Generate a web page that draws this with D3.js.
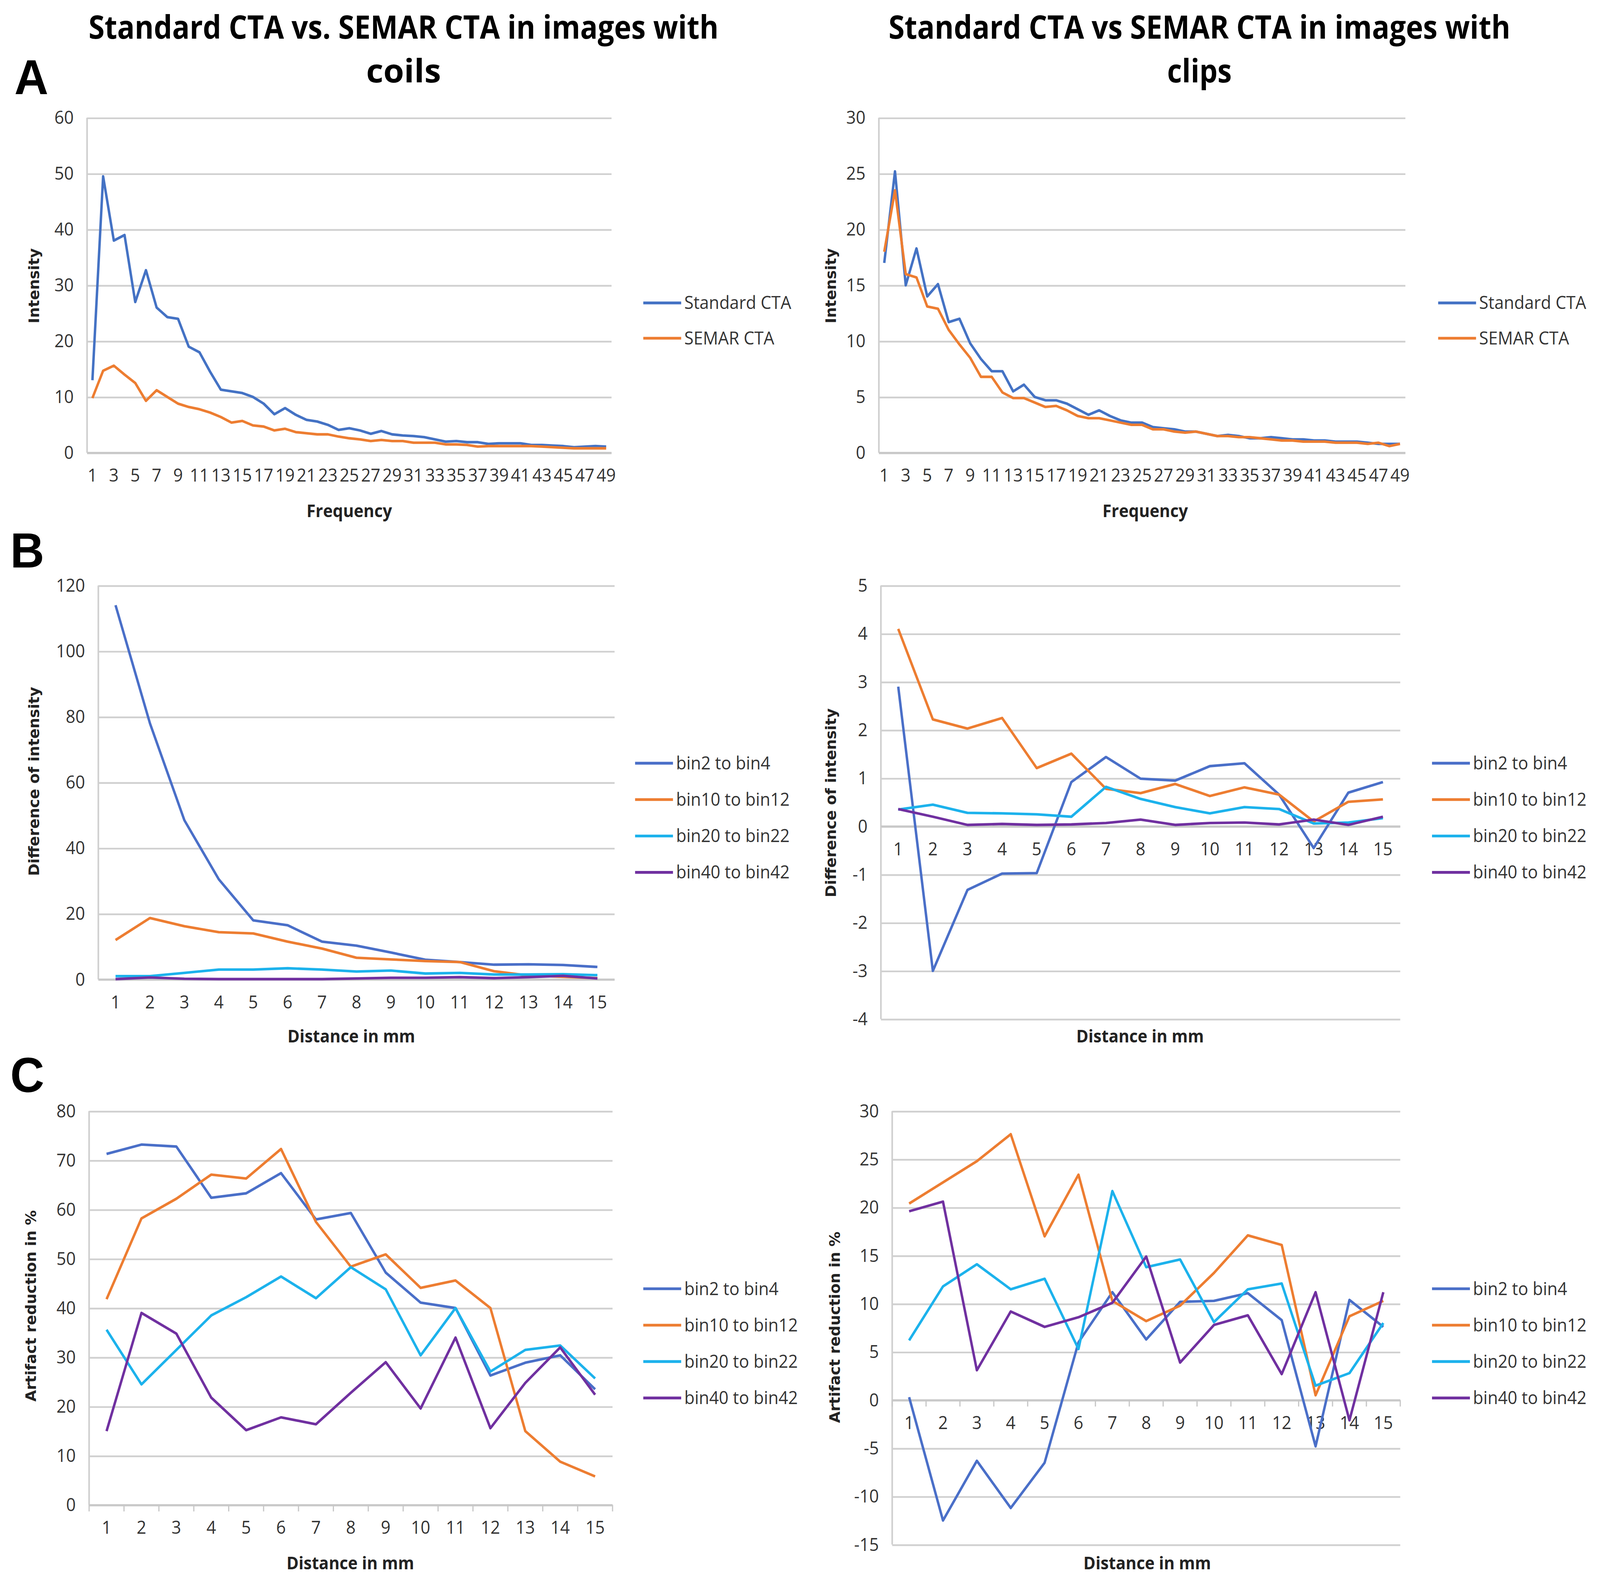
<!DOCTYPE html>
<html>
<head>
<meta charset="utf-8">
<script src="https://cdn.jsdelivr.net/npm/d3@7"></script>
<style>
  html, body { margin: 0; padding: 0; background: #fff; overflow: hidden; }
  #chart svg { display: block; width: 100vw; height: 100vh; }
  svg text { fill: #262626; }
  .title { font-family: "Open Sans", sans-serif; font-weight: bold; font-size: 30px; fill: #000; }
  .letter { font-family: "Liberation Sans", Arial, sans-serif; font-weight: bold; font-size: 46px; fill: #000; }
  .tick-label { font-family: "Open Sans", sans-serif; font-size: 16.5px; fill: #333; }
  .y-title { font-family: "DejaVu Sans", Verdana, sans-serif; font-weight: bold; font-size: 14px; fill: #222; }
  .x-title { font-family: "Open Sans", sans-serif; font-weight: bold; font-size: 16px; fill: #222; }
  .legend-label { font-family: "Open Sans", sans-serif; font-size: 16.5px; fill: #333; }
</style>
</head>
<body>
<div id="chart"></div>
<script>
// categories
const freqBins = [1,2,3,4,5,6,7,8,9,10,11,12,13,14,15,16,17,18,19,20,21,22,23,24,25,
  26,27,28,29,30,31,32,33,34,35,36,37,38,39,40,41,42,43,44,45,46,47,48,49];
const distances = [1,2,3,4,5,6,7,8,9,10,11,12,13,14,15];

// A: spectra, coils
const coilsStandard = [13,49.5,38,39,27,32.7,26,24.3,24,19,18,14.5,11.3,11,10.7,10,8.8,6.9,8,6.8,
  5.9,5.6,5,4.1,4.4,4,3.4,3.9,3.3,3.1,3,2.8,2.4,2,2.1,1.9,1.9,1.6,1.7,1.7,1.7,1.4,1.4,1.3,1.2,1.0,1.1,1.2,1.1];
const coilsSemar = [9.8,14.7,15.6,14,12.5,9.3,11.2,10,8.8,8.2,7.8,7.2,6.4,5.4,5.7,4.9,4.7,4,4.3,3.7,
  3.5,3.3,3.3,2.9,2.6,2.4,2.1,2.3,2.1,2.1,1.8,1.8,1.8,1.5,1.5,1.4,1.1,1.2,1.2,1.2,1.2,1.2,1.1,1.0,0.9,0.8,0.8,0.8,0.8];
// A: spectra, clips
const clipsStandard = [17,25.2,15,18.3,14,15.1,11.7,12,9.8,8.4,7.3,7.3,5.5,6.1,5,4.7,4.7,4.4,3.9,3.4,
  3.8,3.3,2.9,2.7,2.7,2.3,2.2,2.1,1.9,1.9,1.7,1.5,1.6,1.5,1.3,1.3,1.4,1.3,1.2,1.2,1.1,1.1,1.0,1.0,1.0,0.9,0.8,0.8,0.8];
const clipsSemar = [18,23.5,16,15.7,13.1,12.9,11,9.7,8.5,6.8,6.8,5.4,4.9,4.9,4.5,4.1,4.2,3.8,3.3,3.1,
  3.1,2.9,2.7,2.5,2.5,2.1,2.1,1.9,1.8,1.9,1.7,1.5,1.5,1.4,1.4,1.3,1.2,1.1,1.1,1.0,1.0,1.0,0.9,0.9,0.9,0.8,0.9,0.6,0.8];

// B: difference of intensity
const coilsDiffBin2 = [114,78,48.5,30.5,18,16.5,11.5,10.3,8.2,6,5.3,4.5,4.6,4.4,3.8];
const coilsDiffBin10 = [12,18.7,16.2,14.4,14,11.5,9.4,6.6,6.1,5.6,5.3,2.5,1.2,0.8,0.4];
const coilsDiffBin20 = [1,1,2,3,3,3.4,3,2.4,2.7,1.8,2,1.5,1.5,1.6,1.3];
const coilsDiffBin40 = [0.1,0.6,0.2,0.1,0.1,0.1,0.1,0.3,0.5,0.5,0.7,0.4,0.7,1.1,0.3];
const clipsDiffBin2 = [2.9,-3.0,-1.32,-0.98,-0.97,0.92,1.44,0.99,0.95,1.25,1.31,0.66,-0.45,0.7,0.92];
const clipsDiffBin10 = [4.1,2.22,2.03,2.25,1.21,1.51,0.78,0.69,0.88,0.63,0.81,0.66,0.1,0.51,0.56];
const clipsDiffBin20 = [0.35,0.45,0.28,0.27,0.25,0.2,0.82,0.57,0.4,0.27,0.4,0.36,0.06,0.08,0.17];
const clipsDiffBin40 = [0.36,0.2,0.03,0.05,0.03,0.04,0.07,0.14,0.03,0.07,0.08,0.04,0.14,0.03,0.2];

// C: artifact reduction in %
const coilsRedBin2 = [71.3,73.2,72.8,62.4,63.3,67.4,58,59.3,47.2,41.1,40,26.3,28.9,30.4,23.5];
const coilsRedBin10 = [41.8,58.2,62.2,67.1,66.3,72.3,57.5,48.4,50.9,44.1,45.6,40,15,8.8,5.8];
const coilsRedBin20 = [35.6,24.5,31.5,38.5,42.2,46.4,42,48.3,43.8,30.4,40,27.1,31.5,32.4,25.7];
const coilsRedBin40 = [15,39,34.8,21.8,15.2,17.8,16.4,22.8,29,19.6,34,15.6,24.8,32,22.4];
const clipsRedBin2 = [0.3,-12.5,-6.3,-11.2,-6.5,6,11.2,6.3,10.2,10.3,11.1,8.3,-4.8,10.4,7.6];
const clipsRedBin10 = [20.4,22.6,24.8,27.6,17,23.4,10.3,8.2,9.8,13.2,17.1,16.1,0.5,8.7,10.3];
const clipsRedBin20 = [6.2,11.8,14.1,11.5,12.6,5.3,21.7,13.8,14.6,8.1,11.5,12.1,1.5,2.8,8];
const clipsRedBin40 = [19.6,20.6,3.1,9.2,7.6,8.6,10.1,14.9,3.9,7.8,8.8,2.7,11.2,-2.1,11.2];

const cta = ['Standard CTA', 'SEMAR CTA'];
const bins = ['bin2 to bin4', 'bin10 to bin12', 'bin20 to bin22', 'bin40 to bin42'];
const colors = { 'Standard CTA': '#4472c4', 'SEMAR CTA': '#ed7d31',
  'bin2 to bin4': '#4a6fc8', 'bin10 to bin12': '#ed7d31', 'bin20 to bin22': '#1cb2ec', 'bin40 to bin42': '#7030a0' };

const W = 1562, H = 1477;
const svg = d3.select('#chart').append('svg')
  .attr('viewBox', `0 0 ${W} ${H}`)
  .attr('preserveAspectRatio', 'none');

function drawPanel(p) {
  const g = svg.append('g');
  const x = d3.scaleBand().domain(p.cats).range([p.left, p.right]);
  const y = d3.scaleLinear().domain(p.yDomain).range([p.bottom, p.top]);
  const cx = (c) => x(c) + x.bandwidth() / 2;

  // gridlines
  const yTicks = d3.range(p.yDomain[0], p.yDomain[1] + p.yStep / 2, p.yStep);
  g.append('g').call(d3.axisLeft(y).tickValues(yTicks).tickSize(-(p.right - p.left)).tickFormat(''))
    .attr('transform', `translate(${p.left},0)`)
    .call((a) => a.select('.domain').remove())
    .call((a) => a.selectAll('line').attr('stroke', '#d0d0d0').attr('stroke-width', 1.6));

  // y tick labels
  g.selectAll('.ylab').data(yTicks).join('text')
    .attr('class', 'tick-label')
    .attr('x', p.left - 13).attr('y', (d) => y(d)).attr('dy', '0.35em')
    .attr('text-anchor', 'end').text((d) => d);

  // vertical axis line
  g.append('line').attr('x1', p.left).attr('x2', p.left).attr('y1', p.top).attr('y2', p.bottom)
    .attr('stroke', '#d0d0d0').attr('stroke-width', 1.6);
  // horizontal axis at zero
  g.append('line').attr('x1', p.left).attr('x2', p.right).attr('y1', y(0)).attr('y2', y(0))
    .attr('stroke', '#c8c8c8').attr('stroke-width', 1.6);

  if (p.catTicks) {
    g.selectAll('.ctick').data(p.cats.concat(['end'])).join('line')
      .attr('x1', (d, i) => p.left + i * x.bandwidth()).attr('x2', (d, i) => p.left + i * x.bandwidth())
      .attr('y1', y(0)).attr('y2', y(0) + 6)
      .attr('stroke', '#c8c8c8').attr('stroke-width', 1.2);
  }

  // category labels
  const labelY = p.labelBelowZero ? y(0) + 27 : p.bottom + 27;
  g.selectAll('.xlab').data(p.cats.filter((c, i) => i % p.labelEvery === 0)).join('text')
    .attr('class', 'tick-label')
    .attr('x', (d) => cx(d)).attr('y', labelY)
    .attr('text-anchor', 'middle').text((d) => d);

  // series
  const line = d3.line().x((d) => cx(d.cat)).y((d) => y(d.v));
  p.series.forEach((s) => {
    g.append('path')
      .datum(s.values.map((v, i) => ({ cat: p.cats[i], v })))
      .attr('d', line).attr('fill', 'none')
      .attr('stroke', colors[s.name]).attr('stroke-width', 2.4)
      .attr('stroke-linejoin', 'round');
  });

  // axis titles
  g.append('text').attr('class', 'y-title')
    .attr('transform', `translate(${p.yTitleX},${p.yTitleY}) rotate(-90)`)
    .attr('text-anchor', 'middle').text(p.yTitle);
  g.append('text').attr('class', 'x-title')
    .attr('x', p.xTitleX).attr('y', p.xTitleY).attr('text-anchor', 'middle').text(p.xTitle);

  // legend
  p.series.forEach((s, i) => {
    const ly = p.legendY + i * p.legendGap;
    g.append('line').attr('x1', p.legendX).attr('x2', p.legendX + 37).attr('y1', ly).attr('y2', ly)
      .attr('stroke', colors[s.name]).attr('stroke-width', 2.6);
    g.append('text').attr('class', 'legend-label')
      .attr('x', p.legendX + 40).attr('y', ly).attr('dy', '0.35em').text(s.name);
  });
}

// titles and panel letters
[['Standard CTA vs. SEMAR CTA in images with', 'coils', 394, 615, 73], ['Standard CTA vs SEMAR CTA in images with', 'clips', 1171, 607, 63]]
  .forEach(([l1, l2, cxp, len1, len2]) => {
    svg.append('text').attr('class', 'title').attr('x', cxp).attr('y', 36).attr('text-anchor', 'middle')
      .attr('textLength', len1).attr('lengthAdjust', 'spacingAndGlyphs').text(l1);
    svg.append('text').attr('class', 'title').attr('x', cxp).attr('y', 77).attr('text-anchor', 'middle')
      .attr('textLength', len2).attr('lengthAdjust', 'spacingAndGlyphs').text(l2);
  });
[['A', 14, 88], ['B', 10, 530], ['C', 10, 1020]].forEach(([t, lx, ly]) => {
  svg.append('text').attr('class', 'letter').attr('x', lx).attr('y', ly).text(t);
});

drawPanel({ cats: freqBins, left: 85, right: 597, top: 110, bottom: 423, yDomain: [0, 60], yStep: 10,
  labelEvery: 2, yTitle: 'Intensity', yTitleX: 38, yTitleY: 267, xTitle: 'Frequency', xTitleX: 341, xTitleY: 483,
  legendX: 628, legendY: 283, legendGap: 33,
  series: [{ name: cta[0], values: coilsStandard }, { name: cta[1], values: coilsSemar }] });
drawPanel({ cats: freqBins, left: 858, right: 1372, top: 110, bottom: 423, yDomain: [0, 30], yStep: 5,
  labelEvery: 2, yTitle: 'Intensity', yTitleX: 816, yTitleY: 267, xTitle: 'Frequency', xTitleX: 1118, xTitleY: 483,
  legendX: 1404, legendY: 283, legendGap: 33,
  series: [{ name: cta[0], values: clipsStandard }, { name: cta[1], values: clipsSemar }] });

drawPanel({ cats: distances, left: 96, right: 600, top: 547, bottom: 915, yDomain: [0, 120], yStep: 20,
  labelEvery: 1, yTitle: 'Difference of intensity', yTitleX: 38, yTitleY: 730, xTitle: 'Distance in mm', xTitleX: 343, xTitleY: 974,
  legendX: 620, legendY: 713, legendGap: 34,
  series: [{ name: bins[0], values: coilsDiffBin2 }, { name: bins[1], values: coilsDiffBin10 },
    { name: bins[2], values: coilsDiffBin20 }, { name: bins[3], values: coilsDiffBin40 }] });
drawPanel({ cats: distances, left: 860, right: 1367, top: 547, bottom: 952, yDomain: [-4, 5], yStep: 1,
  labelEvery: 1, labelBelowZero: true, yTitle: 'Difference of intensity', yTitleX: 816, yTitleY: 750,
  xTitle: 'Distance in mm', xTitleX: 1113, xTitleY: 974,
  legendX: 1398, legendY: 713, legendGap: 34,
  series: [{ name: bins[0], values: clipsDiffBin2 }, { name: bins[1], values: clipsDiffBin10 },
    { name: bins[2], values: clipsDiffBin20 }, { name: bins[3], values: clipsDiffBin40 }] });

drawPanel({ cats: distances, left: 87, right: 598, top: 1038, bottom: 1406, yDomain: [0, 80], yStep: 10,
  labelEvery: 1, catTicks: true, yTitle: 'Artifact reduction in %', yTitleX: 35, yTitleY: 1220,
  xTitle: 'Distance in mm', xTitleX: 342, xTitleY: 1466,
  legendX: 628, legendY: 1204, legendGap: 34,
  series: [{ name: bins[0], values: coilsRedBin2 }, { name: bins[1], values: coilsRedBin10 },
    { name: bins[2], values: coilsRedBin20 }, { name: bins[3], values: coilsRedBin40 }] });
drawPanel({ cats: distances, left: 871, right: 1367, top: 1038, bottom: 1443, yDomain: [-15, 30], yStep: 5,
  labelEvery: 1, catTicks: true, labelBelowZero: true, yTitle: 'Artifact reduction in %', yTitleX: 820, yTitleY: 1240,
  xTitle: 'Distance in mm', xTitleX: 1120, xTitleY: 1466,
  legendX: 1398, legendY: 1204, legendGap: 34,
  series: [{ name: bins[0], values: clipsRedBin2 }, { name: bins[1], values: clipsRedBin10 },
    { name: bins[2], values: clipsRedBin20 }, { name: bins[3], values: clipsRedBin40 }] });
</script>
</body>
</html>
